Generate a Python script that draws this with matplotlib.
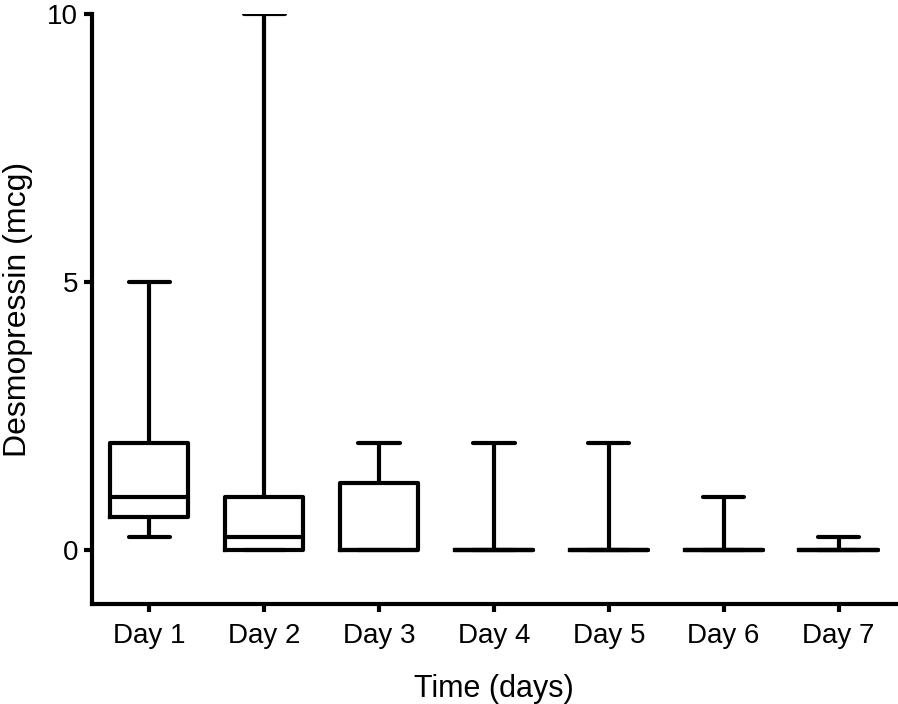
import matplotlib.pyplot as plt

plt.rcParams['font.family'] = ['Liberation Sans', 'DejaVu Sans']

# summary stats (min, q1, median, q3, max)
days = ['Day 1', 'Day 2', 'Day 3', 'Day 4', 'Day 5', 'Day 6', 'Day 7']
mins = [0.25, 0, 0, 0, 0, 0, 0]
q1 = [0.625, 0, 0, 0, 0, 0, 0]
medians = [1, 0.25, 0, 0, 0, 0, 0]
q3 = [2, 1, 1.25, 0, 0, 0, 0]
maxs = [5, 10, 2, 2, 2, 1, 0.25]

stats = []
for d, lo, a, m, b, hi in zip(days, mins, q1, medians, q3, maxs):
    stats.append({'label': d, 'whislo': lo, 'q1': a, 'med': m, 'q3': b, 'whishi': hi, 'fliers': []})

fig = plt.figure(figsize=(8.98, 7.04), dpi=100)
ax = fig.add_axes([0.1024, 0.142, 0.8953, 0.838])

lw = 3
ax.bxp(stats, positions=range(1, 8), widths=0.68, capwidths=0.36, showfliers=False,
       boxprops=dict(color='black', linewidth=lw),
       medianprops=dict(color='black', linewidth=lw),
       whiskerprops=dict(color='black', linewidth=lw, solid_capstyle='round'),
       capprops=dict(color='black', linewidth=lw, solid_capstyle='round'))

ax.set_xlim(0.5, 7.5)
ax.set_ylim(-1, 10)
ax.set_yticks([0, 5, 10])
ax.set_xticks(range(1, 8))
ax.set_xticklabels(days)

for s in ['top', 'right']:
    ax.spines[s].set_visible(False)
for s in ['left', 'bottom']:
    ax.spines[s].set_linewidth(lw)

ax.tick_params(axis='both', direction='out', length=6, width=lw, labelsize=20)
ax.tick_params(axis='y', pad=4)
ax.tick_params(axis='x', pad=8)

ax.set_ylabel('Desmopressin (mcg)', fontsize=23, labelpad=10)
ax.set_xlabel('Time (days)', fontsize=22, labelpad=18)

fig.savefig('out.png', dpi=100)
